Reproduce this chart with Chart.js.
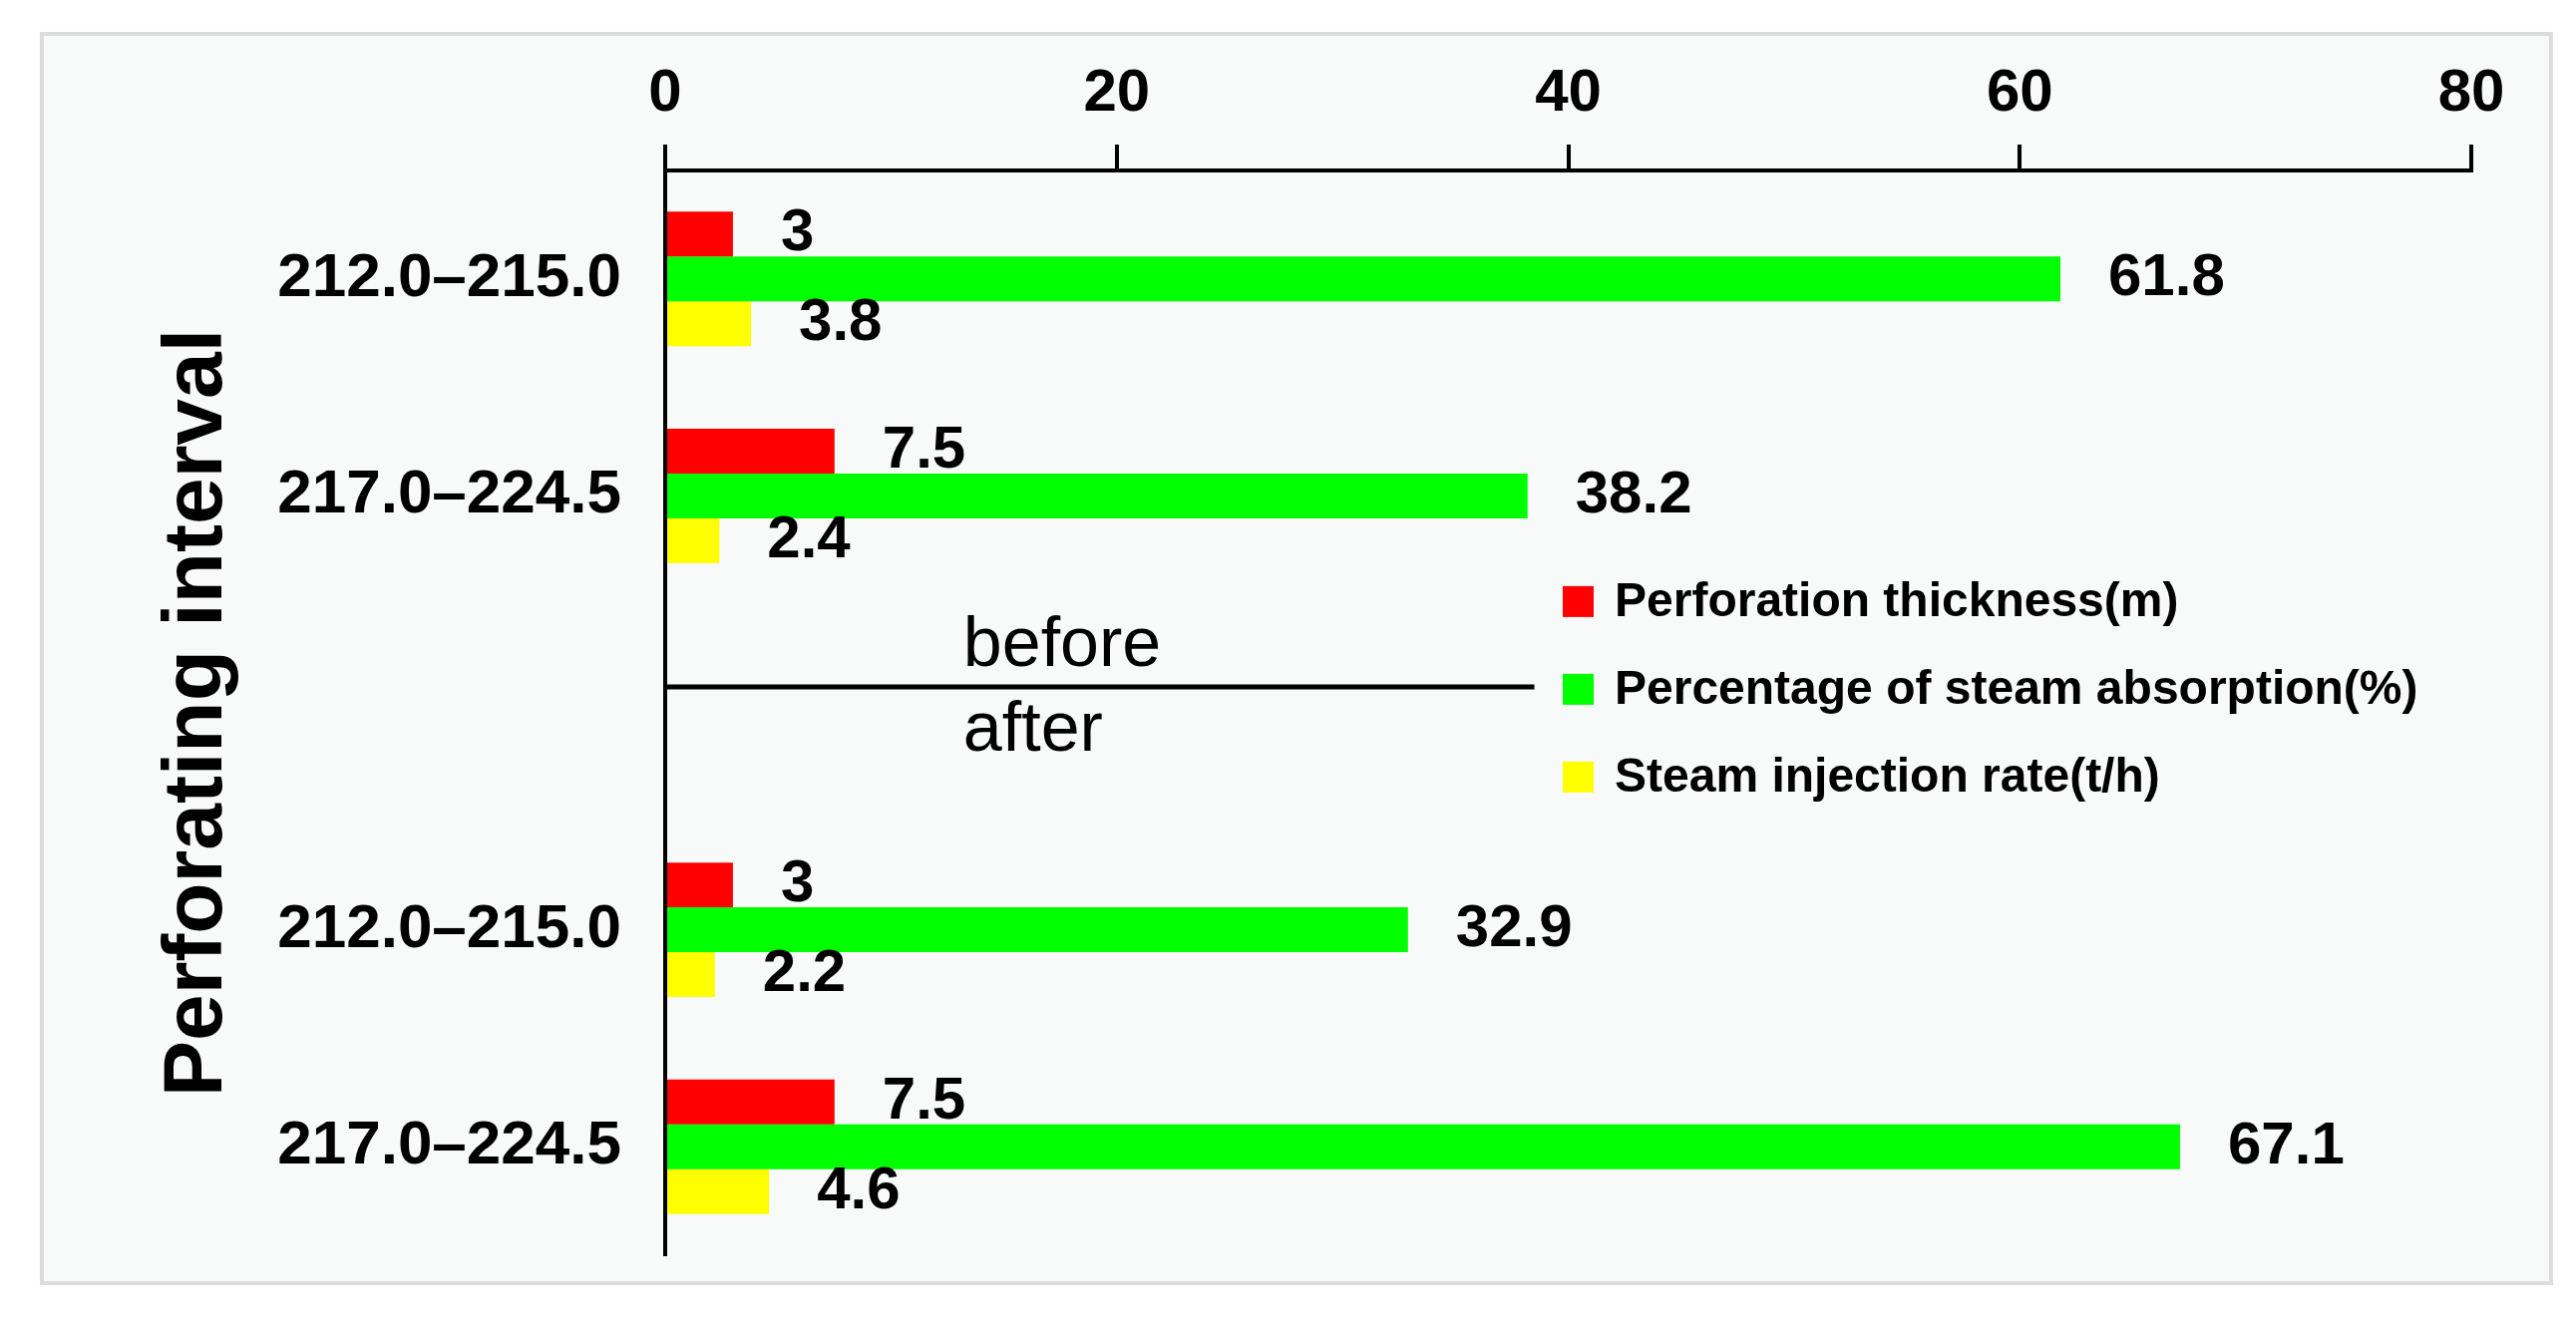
<!DOCTYPE html>
<html>
<head>
<meta charset="utf-8">
<title>Perforating interval</title>
<script src="https://cdn.jsdelivr.net/npm/chart.js@4.4.1/dist/chart.umd.min.js"></script>
<style>
  html, body { margin: 0; padding: 0; background: #ffffff; }
  #panel { position: absolute; left: 40px; top: 32px; width: 2512px; height: 1249px; background: #f8f9f9; border: 4px solid #dcdcdc; }
  #wrap { position: absolute; left: 0; top: 0; width: 2583px; height: 1326px; }
</style>
</head>
<body>
<div id="panel"></div>
<div id="wrap"><canvas id="chart"></canvas></div>
<script>
// categories (the empty one is the before/after gap)
const intervals = ['212.0–215.0', '217.0–224.5', '', '212.0–215.0', '217.0–224.5'];
// series values
const perforationThickness = [3, 7.5, null, 3, 7.5];
const steamAbsorption = [61.8, 38.2, null, 32.9, 67.1];
const injectionRate = [3.8, 2.4, null, 2.2, 4.6];
// x axis ticks
const xTicks = [0, 20, 40, 60, 80];
const seriesNames = ['Perforation thickness(m)', 'Percentage of steam absorption(%)', 'Steam injection rate(t/h)'];
const periodNames = ['before', 'after'];

const FONT = '"Liberation Sans", Arial, sans-serif';
Chart.defaults.font.family = FONT;
Chart.defaults.color = '#000';

// numbers at the end of each bar
const valueLabels = {
    id: 'valueLabels',
    afterDatasetsDraw(chart) {
        const ctx = chart.ctx;
        ctx.save();
        ctx.font = 'bold 60px ' + FONT;
        ctx.fillStyle = '#000';
        ctx.textAlign = 'left';
        ctx.textBaseline = 'middle';
        chart.data.datasets.forEach((ds, i) => {
            chart.getDatasetMeta(i).data.forEach((bar, j) => {
                const v = ds.data[j];
                if (v === null || v === undefined) return;
                ctx.fillText(String(v), bar.x + 48, bar.y);
            });
        });
        ctx.restore();
    }
};

// before/after divider and the legend inside the plot
const notes = {
    id: 'notes',
    afterDraw(chart) {
        const { ctx, scales: { x, y } } = chart;
        const lineY = y.getPixelForValue(1.88);
        ctx.save();
        ctx.strokeStyle = '#000';
        ctx.lineWidth = 5;
        ctx.beginPath();
        ctx.moveTo(x.getPixelForValue(0), lineY);
        ctx.lineTo(x.getPixelForValue(38.5), lineY);
        ctx.stroke();

        ctx.fillStyle = '#000';
        ctx.font = '70px ' + FONT;
        ctx.textAlign = 'left';
        ctx.textBaseline = 'alphabetic';
        const tx = x.getPixelForValue(13.2);
        ctx.fillText(periodNames[0], tx, lineY - 21);
        ctx.fillText(periodNames[1], tx, lineY + 64);

        // legend
        const lx = chart.chartArea.left + 900;
        ctx.font = 'bold 48px ' + FONT;
        ctx.textBaseline = 'middle';
        chart.data.datasets.forEach((ds, i) => {
            const cy = lineY - 85 + i * 88;
            ctx.fillStyle = ds.backgroundColor;
            ctx.fillRect(lx, cy - 16, 31, 31);
            ctx.fillStyle = '#000';
            ctx.fillText(ds.label, lx + 52, cy + 1);
        });
        ctx.restore();
    }
};

new Chart(document.getElementById('chart'), {
    type: 'bar',
    data: {
        labels: intervals,
        datasets: [
            { label: seriesNames[0], data: perforationThickness, backgroundColor: '#ff0000' },
            { label: seriesNames[1], data: steamAbsorption, backgroundColor: '#00ff00' },
            { label: seriesNames[2], data: injectionRate, backgroundColor: '#ffff00' }
        ]
    },
    options: {
        indexAxis: 'y',
        responsive: true,
        maintainAspectRatio: false,
        animation: false,
        categoryPercentage: 0.62,
        barPercentage: 1,
        layout: { padding: { left: 0, top: 0, right: 105, bottom: 67 } },
        plugins: {
            legend: { display: false },
            tooltip: { enabled: false }
        },
        scales: {
            x: {
                position: 'top',
                min: 0,
                max: 80,
                afterBuildTicks: (scale) => { scale.ticks = xTicks.map(v => ({ value: v })); },
                afterFit: (scale) => { scale.height = 171; },
                ticks: { padding: 15, color: '#000', font: { size: 60, weight: 'bold' } },
                grid: { drawOnChartArea: false, drawTicks: true, tickLength: 26, tickWidth: 4, color: '#000', lineWidth: 4 },
                border: { display: true, color: '#000', width: 4 }
            },
            y: {
                afterFit: (scale) => {
                    scale.width = 667;
                    // the labels sit well inside the plot, no extra room needed
                    scale.paddingTop = 0;
                    scale.paddingBottom = 0;
                },
                ticks: { padding: 44, autoSkip: false, color: '#000', font: { size: 62, weight: 'bold' } },
                grid: { display: false, drawTicks: false },
                border: { display: true, color: '#000', width: 4 },
                title: {
                    display: true,
                    text: 'Perforating interval',
                    color: '#000',
                    font: { size: 84, weight: 'bold' },
                    padding: { top: 148, bottom: 0 }
                }
            }
        }
    },
    plugins: [valueLabels, notes]
});
</script>
</body>
</html>
